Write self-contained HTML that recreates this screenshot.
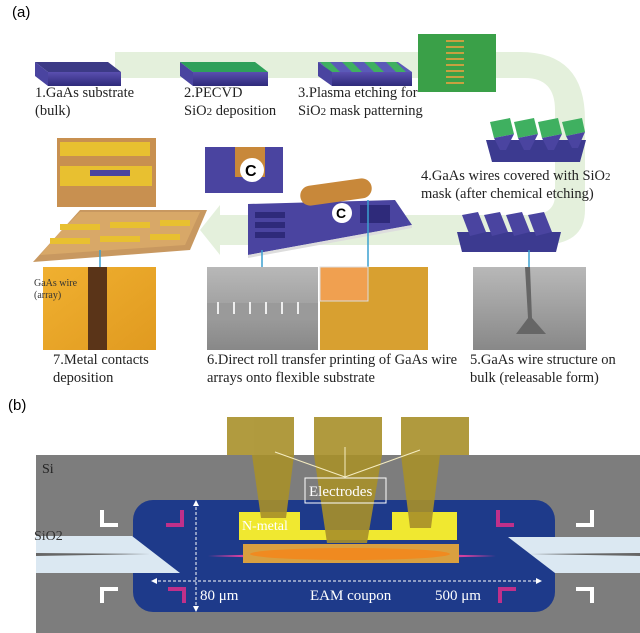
<!DOCTYPE html>
<html><head><style>
html,body{margin:0;padding:0;background:#fff;}
svg{display:block;font-family:"Liberation Serif",serif;}
</style></head><body>
<svg width="640" height="633" viewBox="0 0 640 633" xmlns="http://www.w3.org/2000/svg">
<defs>
<linearGradient id="pur" x1="0" y1="0" x2="0" y2="1"><stop offset="0" stop-color="#5a4fb0"/><stop offset="1" stop-color="#2e2a7a"/></linearGradient>
<linearGradient id="org" x1="0" y1="0" x2="1" y2="1"><stop offset="0" stop-color="#f0b030"/><stop offset="1" stop-color="#e09a20"/></linearGradient>
<linearGradient id="gry" x1="0" y1="0" x2="0" y2="1"><stop offset="0" stop-color="#b8b8b8"/><stop offset="1" stop-color="#888"/></linearGradient>
</defs>
<text x="12" y="17" font-family="Liberation Sans,sans-serif" font-size="15">(a)</text>
<path d="M115 52 L520 52 Q585 52 585 120 L585 210 Q585 245 540 245 L220 245 L220 255 L200 230 L220 205 L220 215 L530 215 Q555 215 555 195 L555 110 Q555 78 525 78 L115 78 Z" fill="#e4f0dc"/>
<polygon points="35,62 108,62 121,72 48,72" fill="#3c3a86"/>
<polygon points="35,62 48,72 48,86 35,76" fill="#4a44a0"/>
<rect x="48" y="72" width="73" height="14" fill="url(#pur)"/>
<polygon points="180,62 255,62 268,72 193,72" fill="#2ea05a"/>
<polygon points="180,62 193,72 193,86 180,76" fill="#4a44a0"/>
<rect x="193" y="72" width="75" height="14" fill="url(#pur)"/>
<polygon points="318,62 398,62 412,72 332,72" fill="#5b5ab8"/>
<g fill="#3fb060"><polygon points="320,62 330,62 340,72 330,72"/><polygon points="342,62 352,62 362,72 352,72"/><polygon points="364,62 374,62 384,72 374,72"/><polygon points="386,62 396,62 406,72 396,72"/></g>
<rect x="332" y="72" width="80" height="14" fill="url(#pur)"/>
<polygon points="318,62 332,72 332,86 318,76" fill="#4a44a0"/>
<rect x="418" y="34" width="78" height="58" fill="#3aa048"/>
<g fill="#c8a040"><rect x="446" y="40" width="18" height="2"/><rect x="446" y="46" width="18" height="2"/><rect x="446" y="52" width="18" height="2"/><rect x="446" y="58" width="18" height="2"/><rect x="446" y="64" width="18" height="2"/><rect x="446" y="70" width="18" height="2"/><rect x="446" y="76" width="18" height="2"/><rect x="446" y="82" width="18" height="2"/></g>
<g font-size="14.5" fill="#222">
<text x="35" y="97">1.GaAs substrate</text><text x="35" y="115">(bulk)</text>
<text x="184" y="97">2.PECVD</text><text x="184" y="115">SiO<tspan font-size="11">2</tspan> deposition</text>
<text x="298" y="97">3.Plasma etching for</text><text x="298" y="115">SiO<tspan font-size="11">2</tspan> mask patterning</text>
<text x="421" y="180">4.GaAs wires covered with SiO<tspan font-size="11">2</tspan></text>
<text x="421" y="198">mask (after chemical etching)</text>
<text x="53" y="364">7.Metal contacts</text><text x="53" y="382">deposition</text>
<text x="207" y="364">6.Direct roll transfer printing of GaAs wire</text><text x="207" y="382">arrays onto flexible substrate</text>
<text x="470" y="364">5.GaAs wire structure on</text><text x="470" y="382">bulk (releasable form)</text>
</g>
<polygon points="486,140 586,140 580,162 492,162" fill="#3c3a90"/>
<g fill="#3fb060"><polygon points="490,122 510,118 514,134 494,138"/><polygon points="514,122 534,118 538,134 518,138"/><polygon points="538,122 558,118 562,134 542,138"/><polygon points="562,122 582,118 585,132 566,136"/></g>
<g fill="#4a44a0"><polygon points="494,138 514,134 506,150 500,150"/><polygon points="518,138 538,134 530,150 524,150"/><polygon points="542,138 562,134 554,150 548,150"/><polygon points="566,136 585,132 578,148 572,148"/></g>
<polygon points="457,232 561,232 556,252 462,252" fill="#3c3a90"/>
<g fill="#4a44a0"><polygon points="462,215 478,212 486,232 470,236"/><polygon points="484,215 500,212 508,232 492,236"/><polygon points="506,215 522,212 530,232 514,236"/><polygon points="528,215 544,212 552,232 536,236"/></g>
<polygon points="248,204 395,200 412,225 248,255" fill="#4a44a0"/>
<polygon points="248,255 412,225 412,228 248,258" fill="#ddd"/>
<g fill="#2e2a7a"><rect x="255" y="212" width="30" height="6"/><rect x="255" y="222" width="30" height="6"/><rect x="255" y="232" width="30" height="6"/><rect x="360" y="205" width="30" height="18"/></g>
<rect x="300" y="182" width="72" height="20" rx="10" fill="#c8883a" transform="rotate(-8 336 192)"/>
<circle cx="342" cy="213" r="10" fill="#fff"/><text x="336" y="218" font-size="14" font-family="Liberation Sans,sans-serif" font-weight="bold">C</text>
<rect x="205" y="147" width="78" height="46" fill="#4a44a0"/>
<rect x="235" y="147" width="30" height="30" fill="#c8883a"/>
<circle cx="252" cy="170" r="12" fill="#fff"/><text x="245" y="176" font-size="16" font-family="Liberation Sans,sans-serif" font-weight="bold">C</text>
<polygon points="33,262 80,210 207,210 190,250 33,262" fill="#c89860"/>
<polygon points="60,232 80,212 200,212 185,245 40,255" fill="#d8a868"/>
<g fill="#e8c030"><rect x="50" y="238" width="40" height="6"/><rect x="100" y="236" width="40" height="6"/><rect x="150" y="234" width="30" height="6"/><rect x="60" y="224" width="40" height="6"/><rect x="110" y="222" width="40" height="6"/><rect x="160" y="220" width="30" height="6"/></g>
<polygon points="57,138 156,138 156,207 57,207" fill="#c89050"/>
<g fill="#e8c030"><rect x="60" y="142" width="90" height="14"/><rect x="60" y="166" width="92" height="20"/></g>
<rect x="90" y="170" width="40" height="6" fill="#4a44a0"/>
<g stroke="#3aa0d0" stroke-width="1.5"><line x1="100" y1="250" x2="100" y2="267"/><line x1="262" y1="250" x2="262" y2="267"/><line x1="368" y1="200" x2="368" y2="300"/><line x1="368" y1="300" x2="325" y2="300"/><line x1="529" y1="250" x2="529" y2="267"/></g>
<rect x="43" y="267" width="113" height="83" fill="url(#org)"/>
<rect x="88" y="267" width="19" height="83" fill="#5a3418"/>
<text x="34" y="286" font-size="10" fill="#333">GaAs wire</text><text x="34" y="298" font-size="10" fill="#333">(array)</text>
<rect x="207" y="267" width="111" height="83" fill="url(#gry)"/>
<rect x="207" y="303" width="111" height="16" fill="#9a9a9a"/>
<g stroke="#eee" stroke-width="2"><line x1="218" y1="302" x2="218" y2="314"/><line x1="234" y1="302" x2="234" y2="314"/><line x1="250" y1="302" x2="250" y2="314"/><line x1="266" y1="302" x2="266" y2="314"/><line x1="282" y1="302" x2="282" y2="314"/><line x1="298" y1="302" x2="298" y2="314"/></g>
<rect x="320" y="267" width="108" height="83" fill="#d8a030"/>
<rect x="320" y="267" width="48" height="34" fill="#f0a050" stroke="#ddd"/>
<rect x="473" y="267" width="113" height="83" fill="url(#gry)"/>
<polygon points="525,267 530,267 532,318 546,334 516,334 528,318" fill="#666"/>
<text x="8" y="410" font-family="Liberation Sans,sans-serif" font-size="15">(b)</text>
<rect x="36" y="455" width="604" height="178" fill="#7d7d7d"/>
<rect x="133" y="500" width="422" height="112" rx="20" fill="#1e3a8a"/>
<polygon points="36,536 132,536 180,573 36,573" fill="#dbe8f2"/>
<polygon points="508,537 640,537 640,573 555,573" fill="#dbe8f2"/>
<polygon points="36,553 150,554 36,556" fill="#666"/><polygon points="640,553 530,554 640,556" fill="#666"/>
<g fill="none" stroke-width="4">
<path d="M102 510 V525 H118" stroke="#fff"/><path d="M102 603 V589 H118" stroke="#fff"/>
<path d="M592 510 V525 H576" stroke="#fff"/><path d="M592 603 V589 H576" stroke="#fff"/>
<path d="M182 510 V525 H166" stroke="#c0308a"/><path d="M184 603 V589 H168" stroke="#c0308a"/>
<path d="M498 510 V525 H514" stroke="#c0308a"/><path d="M500 603 V589 H516" stroke="#c0308a"/>
</g>
<path d="M239 512 H300 V530 H392 V512 H457 V540 H239 Z" fill="#f0e830"/>
<polygon points="208,556 300,553 400,553 496,556 400,559 300,559" fill="#d040a0"/>
<rect x="243" y="544" width="216" height="19" fill="#d9a040"/>
<ellipse cx="350" cy="554" rx="100" ry="6" fill="#f08a20"/>
<g fill="#a8902a" opacity="0.9">
<polygon points="227,417 294,417 294,455 286,518 261,518 252,455 227,455"/>
<polygon points="314,417 382,417 382,455 367,543 327,543 314,455"/>
<polygon points="401,417 469,417 469,455 440,455 431,528 410,528 401,455"/>
</g>
<text x="242" y="530" font-size="14" fill="#fff">N-metal</text>
<g stroke="#fff" stroke-width="1" stroke-dasharray="3,2" fill="#fff">
<line x1="196" y1="502" x2="196" y2="610"/><line x1="153" y1="581" x2="540" y2="581"/>
</g>
<g fill="#fff"><polygon points="196,500 193,506 199,506"/><polygon points="196,612 193,606 199,606"/><polygon points="151,581 157,578 157,584"/><polygon points="542,581 536,578 536,584"/></g>
<g stroke="#f5ecc0" stroke-width="1"><line x1="345" y1="477" x2="275" y2="452"/><line x1="345" y1="477" x2="345" y2="447"/><line x1="345" y1="477" x2="420" y2="450"/></g>
<rect x="305" y="478" width="81" height="25" fill="none" stroke="#fff" stroke-width="1"/>
<g fill="#fff" font-size="15">
<text x="309" y="496">Electrodes</text>
<text x="200" y="600">80 μm</text><text x="310" y="600">EAM coupon</text><text x="435" y="600">500 μm</text>
</g>
<text x="42" y="473" font-size="14" fill="#222">Si</text>
<text x="34" y="540" font-size="14" fill="#333">SiO2</text>
</svg>
</body></html>
